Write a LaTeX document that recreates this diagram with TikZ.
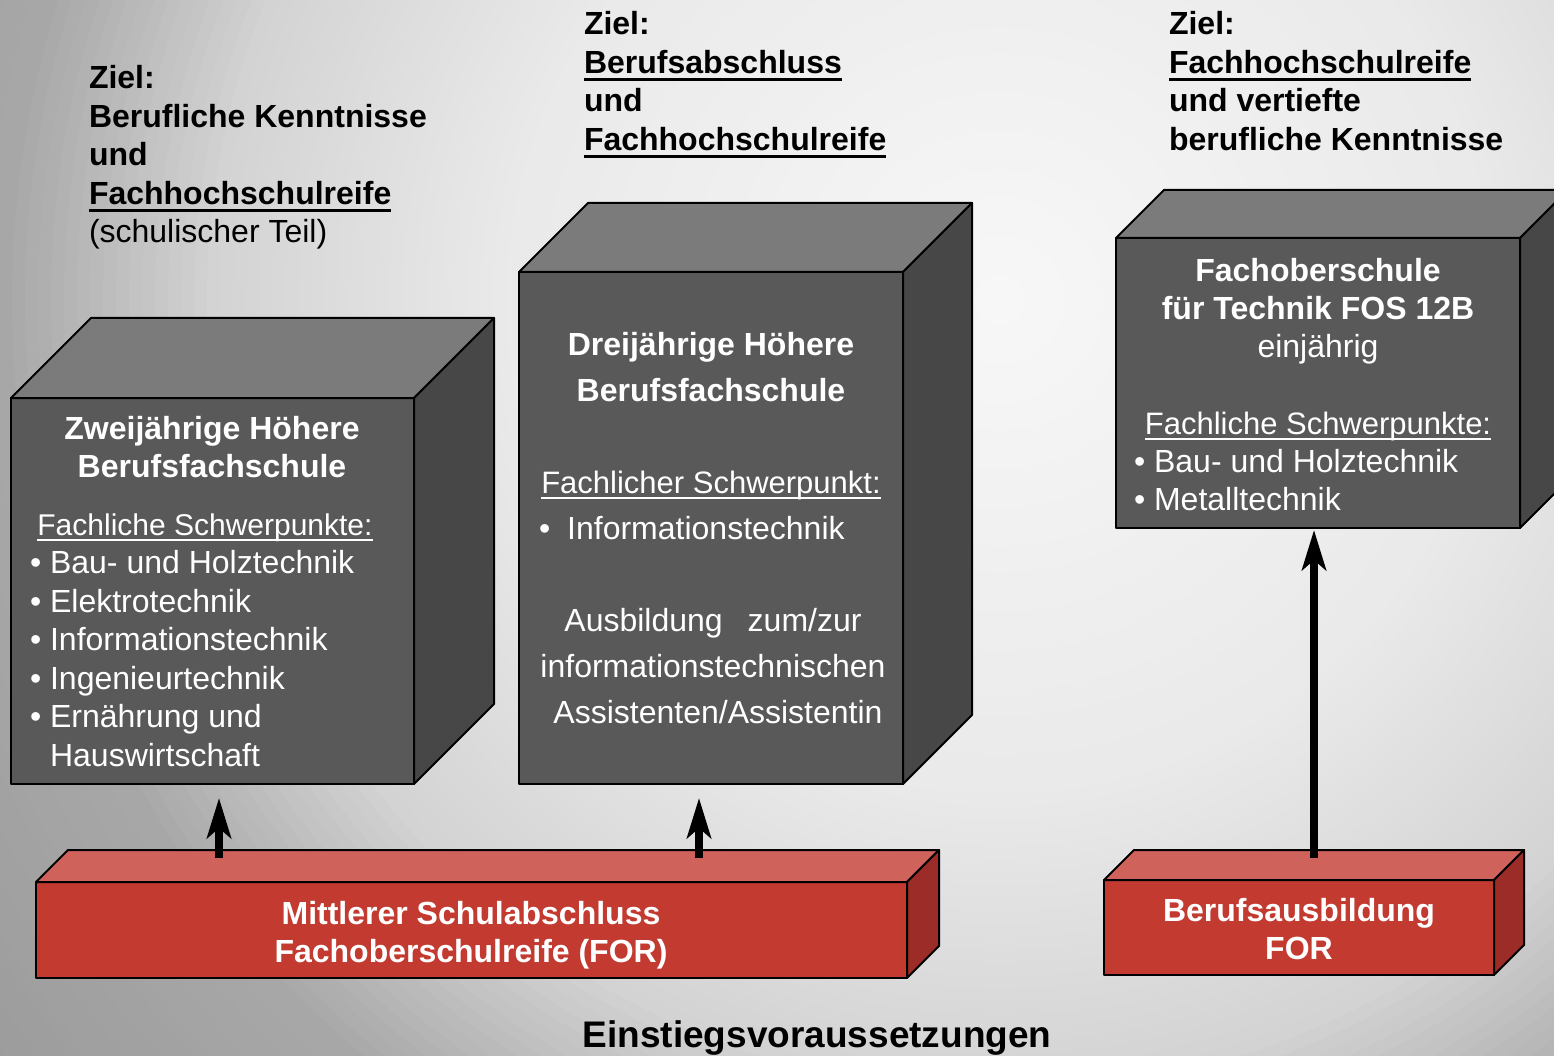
\documentclass[tikz,border=0pt]{standalone}
\usepackage{fontspec}
\setmainfont{Liberation Sans}
\usetikzlibrary{arrows.meta}
\definecolor{cubeF}{HTML}{595959}
\definecolor{cubeT}{HTML}{7B7B7B}
\definecolor{cubeS}{HTML}{474747}
\definecolor{redF}{HTML}{C23A30}
\definecolor{redT}{HTML}{D0625C}
\definecolor{redS}{HTML}{9C2C28}
\newcommand\ulb[1]{\setbox0\hbox{#1}\rlap{\rule[-7.5pt]{\wd0}{3pt}}\box0}
\newcommand\ulw[1]{\setbox0\hbox{#1}\rlap{\rule[-5.5pt]{\wd0}{2pt}}\box0}
\tikzset{
  face/.style={draw=black, line width=2pt, line join=round},
  front/.style={face, inner sep=0pt, outer sep=0pt, anchor=north west},
  txt/.style={inner sep=0pt, outer sep=0pt, font=\fontsize{32}{38.5}\selectfont},
  wtxt/.style={txt, text=white},
  arr/.style={line width=8pt, -{Stealth[length=40pt,width=24pt,inset=10pt]}},
}
\begin{document}
\begin{tikzpicture}[x=1pt,y=-1pt]
\useasboundingbox (0,0) rectangle (1554,1056);
\begin{scope}
  \clip (0,0) rectangle (1554,1056);
  \foreach \i in {100,99,...,1} {
    \pgfmathsetmacro\rr{13*\i}
    \pgfmathtruncatemacro\v{\rr<500 ? 248-(\rr/500)*14 : (\rr<790 ? 234-((\rr-500)/290)*22 : (\rr<1000 ? 212-((\rr-790)/210)*44 : 168-((\rr-1000)/300)*13))}
    \fill[fill={rgb,255:red,\v;green,\v;blue,\v}] (1000,300) circle (\rr pt);
  }
\end{scope}

% ---- cube 1 ----
\node[front, fill=cubeF, minimum width=403pt, minimum height=386pt] (c1) at (11,398) {};
\draw[face, fill=cubeT] (c1.north west) -- ++(80,-80) -- ++(403,0) -- (c1.north east) -- cycle;
\draw[face, fill=cubeS] (c1.north east) -- ++(80,-80) -- ++(0,386) -- (c1.south east) -- cycle;

% ---- cube 2 ----
\node[front, fill=cubeF, minimum width=384pt, minimum height=512pt] (c2) at (519,272) {};
\draw[face, fill=cubeT] (c2.north west) -- ++(69,-69) -- ++(384,0) -- (c2.north east) -- cycle;
\draw[face, fill=cubeS] (c2.north east) -- ++(69,-69) -- ++(0,512) -- (c2.south east) -- cycle;

% ---- cube 3 ----
\node[front, fill=cubeF, minimum width=404pt, minimum height=290pt] (c3) at (1116,238) {};
\draw[face, fill=cubeT] (c3.north west) -- ++(48,-48) -- ++(404,0) -- (c3.north east) -- cycle;
\draw[face, fill=cubeS] (c3.north east) -- ++(48,-48) -- ++(0,290) -- (c3.south east) -- cycle;

% ---- red bar 1 ----
\node[front, fill=redF, minimum width=871pt, minimum height=96pt] (r1) at (36,882) {};
\draw[face, fill=redT] (r1.north west) -- ++(32,-32) -- ++(871,0) -- (r1.north east) -- cycle;
\draw[face, fill=redS] (r1.north east) -- ++(32,-32) -- ++(0,96) -- (r1.south east) -- cycle;

% ---- red bar 2 ----
\node[front, fill=redF, minimum width=390pt, minimum height=95pt] (r2) at (1104,880) {};
\draw[face, fill=redT] (r2.north west) -- ++(30,-30) -- ++(390,0) -- (r2.north east) -- cycle;
\draw[face, fill=redS] (r2.north east) -- ++(30,-30) -- ++(0,95) -- (r2.south east) -- cycle;

% ---- arrows ----
\coordinate (a1s) at (219,858);
\coordinate (a1e) at (219,798);
\coordinate (a2s) at (699,858);
\coordinate (a2e) at (699,798);
\coordinate (a3s) at (1314,858);
\coordinate (a3e) at (1314,530);
\draw[arr] (a1s) -- (a1e);
\draw[arr] (a2s) -- (a2e);
\draw[arr] (a3s) -- (a3e);

% ---- goal texts ----
\node[txt, anchor=base west] (g1) at (89,89) {\begin{tabular}[t]{@{}l@{}}\textbf{Ziel:}\\ \textbf{Berufliche Kenntnisse}\\ \textbf{und}\\ \ulb{\textbf{Fachhochschulreife}}\\ (schulischer Teil)\end{tabular}};
\node[txt, anchor=base west] (g2) at (584,35) {\begin{tabular}[t]{@{}l@{}}\textbf{Ziel:}\\ \ulb{\textbf{Berufsabschluss}}\\ \textbf{und}\\ \ulb{\textbf{Fachhochschulreife}}\end{tabular}};
\node[txt, anchor=base west] (g3) at (1169,35) {\begin{tabular}[t]{@{}l@{}}\textbf{Ziel:}\\ \ulb{\textbf{Fachhochschulreife}}\\ \textbf{und vertiefte}\\ \textbf{berufliche Kenntnisse}\end{tabular}};

% ---- cube 1 texts ----
\node[wtxt, anchor=base] (t1h) at (212,439) {\begin{tabular}[t]{@{}c@{}}\textbf{Zweijährige Höhere}\\ \textbf{Berufsfachschule}\end{tabular}};
\node[wtxt, anchor=base, font=\fontsize{30}{36}\selectfont] (t1s) at (205,535) {\ulw{Fachliche Schwerpunkte:}};
\node[wtxt, anchor=base west] (t1l) at (30,573.5) {\begin{tabular}[t]{@{}l@{}}• Bau- und Holztechnik\\ • Elektrotechnik\\ • Informationstechnik\\ • Ingenieurtechnik\\ • Ernährung und\\ \hphantom{• }Hauswirtschaft\end{tabular}};

% ---- cube 2 texts ----
\node[wtxt, anchor=base, font=\fontsize{32}{46}\selectfont] (t2h) at (711,355) {\begin{tabular}[t]{@{}c@{}}\textbf{Dreijährige Höhere}\\ \textbf{Berufsfachschule}\end{tabular}};
\node[wtxt, anchor=base, font=\fontsize{31}{37}\selectfont] (t2s) at (711,493) {\ulw{Fachlicher Schwerpunkt:}};
\node[wtxt, anchor=base west] (t2l) at (539,539) {•\hspace{17pt}Informationstechnik};
\node[wtxt, anchor=base, font=\fontsize{32}{46}\selectfont] (t2a) at (713,631) {\begin{tabular}[t]{@{}c@{}}Ausbildung\hspace{25pt}zum/zur\\ informationstechnischen\\ \hspace{10pt}Assistenten/Assistentin\end{tabular}};

% ---- cube 3 texts ----
\node[wtxt, anchor=base, font=\fontsize{32}{38}\selectfont] (t3h) at (1318,282) {\begin{tabular}[t]{@{}c@{}}\textbf{Fachoberschule}\\ \textbf{für Technik FOS 12B}\\ einjährig\end{tabular}};
\node[wtxt, anchor=base, font=\fontsize{31}{37}\selectfont] (t3s) at (1318,434) {\ulw{Fachliche Schwerpunkte:}};
\node[wtxt, anchor=base west, font=\fontsize{32}{38}\selectfont] (t3l) at (1134,472) {\begin{tabular}[t]{@{}l@{}}• Bau- und Holztechnik\\ • Metalltechnik\end{tabular}};

% ---- red bar texts ----
\node[wtxt, anchor=base, font=\fontsize{32}{38}\selectfont] (r1t) at (471,924) {\begin{tabular}[t]{@{}c@{}}\textbf{Mittlerer Schulabschluss}\\ \textbf{Fachoberschulreife (FOR)}\end{tabular}};
\node[wtxt, anchor=base, font=\fontsize{32}{38}\selectfont] (r2t) at (1299,921) {\begin{tabular}[t]{@{}c@{}}\textbf{Berufsausbildung}\\ \textbf{FOR}\end{tabular}};

% ---- bottom ----
\node[txt, anchor=base, font=\fontsize{37}{41}\selectfont\bfseries] (bot) at (817,1047) {Einstiegsvoraussetzungen};
\end{tikzpicture}
\end{document}
